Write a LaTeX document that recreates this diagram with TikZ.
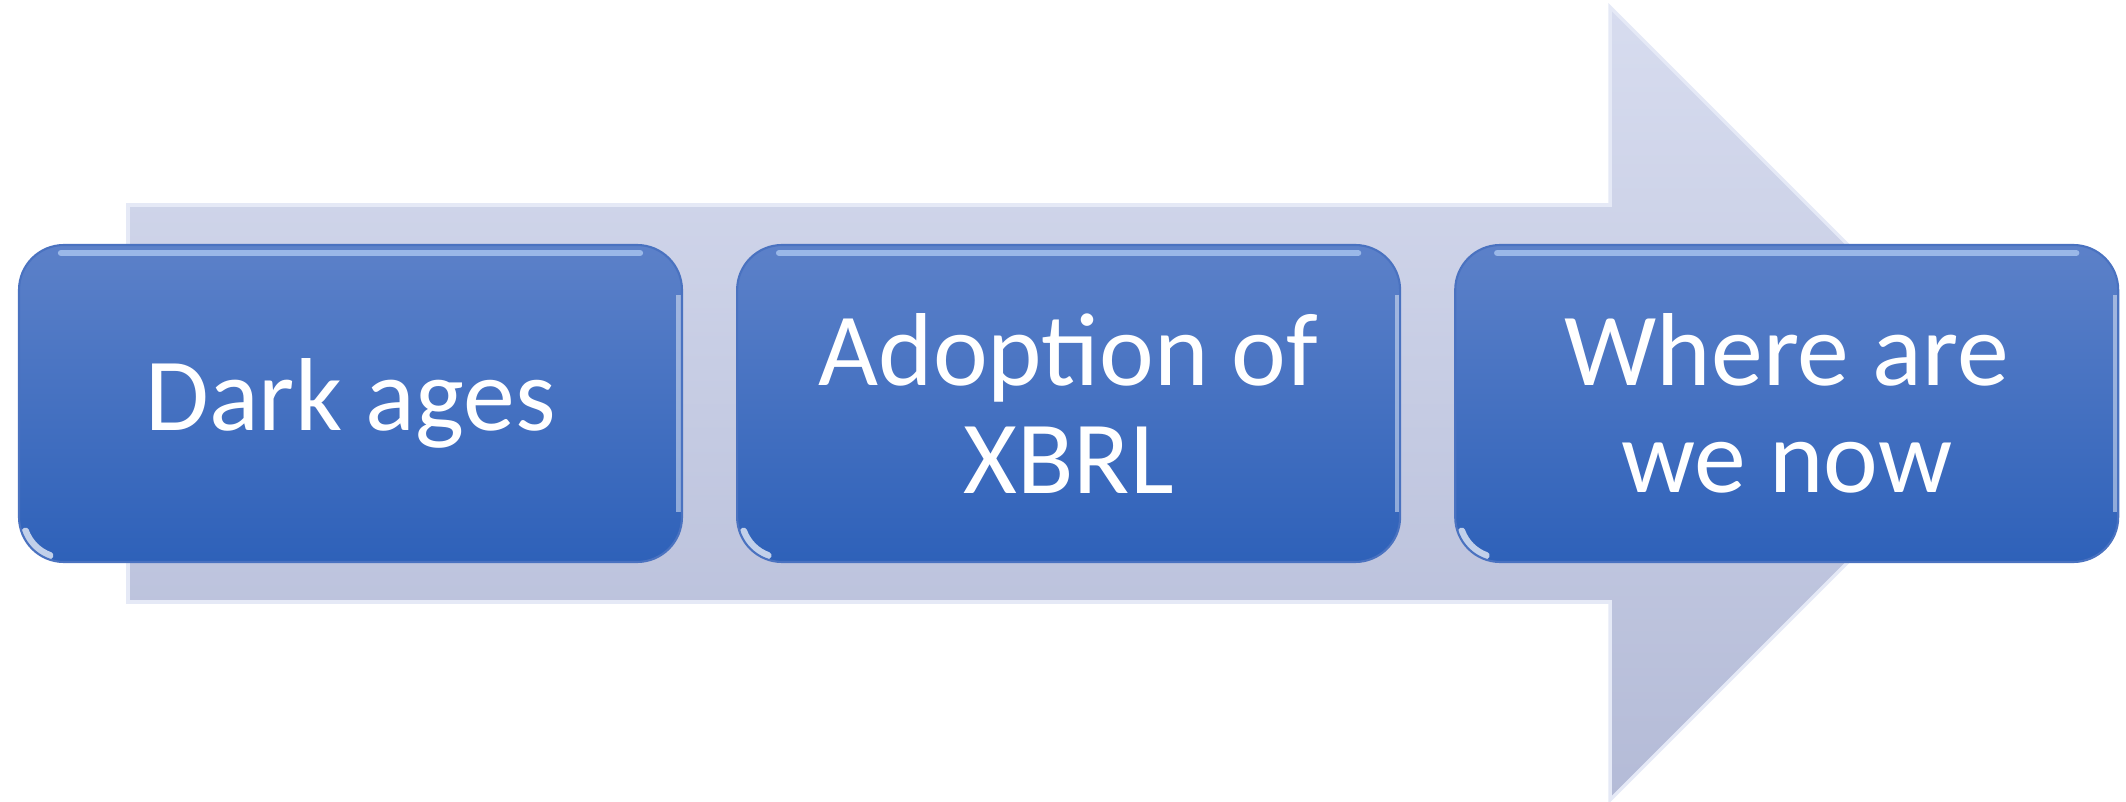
\documentclass[tikz,border=0pt]{standalone}
\usepackage{fontspec}
\setmainfont{Carlito}
\usetikzlibrary{positioning}
\definecolor{arrowtop}{RGB}{215,220,239}
\definecolor{arrowbot}{RGB}{180,187,215}
\definecolor{arrowedge}{RGB}{229,233,246}
\definecolor{stagetop}{RGB}{92,129,201}
\definecolor{stagebot}{RGB}{46,97,185}
\definecolor{stageedge}{RGB}{74,114,192}
\definecolor{stageshine}{RGB}{170,198,240}
\tikzset{
  stage/.style={rounded corners=0.45cm, minimum width=6.63cm, minimum height=3.17cm,
    inner sep=0pt, align=center, text=white, draw=stageedge, line width=0.6pt,
    top color=stagetop, bottom color=stagebot,
    font=\fontsize{29.5}{30.5}\selectfont,
    path picture={
      \draw[stageshine, line width=1.8pt, line cap=round, opacity=0.8]
        ([xshift=0.42cm,yshift=-0.08cm]path picture bounding box.north west) --
        ([xshift=-0.42cm,yshift=-0.08cm]path picture bounding box.north east);
      \draw[white, opacity=0.45, line width=1.2pt]
        ([xshift=-0.035cm,yshift=-0.5cm]path picture bounding box.north east) --
        ([xshift=-0.035cm,yshift=0.5cm]path picture bounding box.south east);
      \draw[white, opacity=0.7, line width=2pt, line cap=round]
        ([shift={(0.45cm,0.45cm)}]path picture bounding box.south west)
        ++(200:0.41cm) arc[start angle=200, end angle=250, radius=0.41cm];
    }},
  bigarrow/.style={top color=arrowtop, bottom color=arrowbot, draw=arrowedge, line width=1pt}
}
\begin{document}
\begin{tikzpicture}
\useasboundingbox (0,0) rectangle (21.26,8.02);

\path[bigarrow] (1.28,5.97) -- (16.10,5.97) -- (16.10,7.95) -- (20.065,3.985)
  -- (16.10,0.02) -- (16.10,2.00) -- (1.28,2.00) -- cycle;

\node[stage] (dark) at (3.505,3.985) {Dark ages};
\node[stage, right=0.53cm of dark] (adopt) {Adoption of\\XBRL};
\node[stage, right=0.53cm of adopt] (now) {Where are\\we now};
\end{tikzpicture}
\end{document}
